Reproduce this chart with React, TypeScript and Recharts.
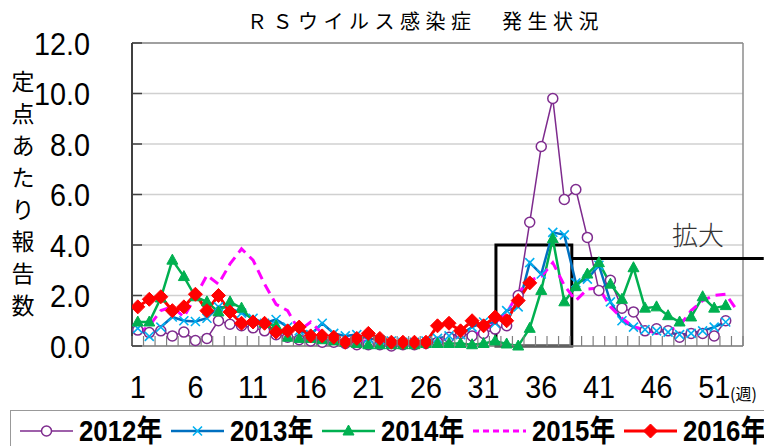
import React from 'react';
import { LineChart, Line, XAxis, YAxis, CartesianGrid, ReferenceArea, ReferenceLine, Legend } from 'recharts';

// ---- data ----
const weeks: number[] = [
  1, 2, 3, 4, 5, 6, 7, 8, 9, 10, 11, 12, 13, 14, 15, 16, 17, 18, 19, 20, 21, 22, 23, 24, 25, 26,
  27, 28, 29, 30, 31, 32, 33, 34, 35, 36, 37, 38, 39, 40, 41, 42, 43, 44, 45, 46, 47, 48, 49, 50, 51, 52, 53,
];

const v2012: (number | null)[] = [
  0.63, 0.53, 0.6, 0.4, 0.55, 0.22, 0.3, 1.0, 0.86, 0.8, 0.72, 0.6, 0.45, 0.35, 0.25, 0.2, 0.15, 0.15, 0.1, 0.05,
  0.05, 0.05, 0.0, 0.05, 0.05, 0.1, 0.15, 0.35, 0.5, 0.4, 0.5, 0.67, 0.8, 2.0, 4.9, 7.9, 9.8, 5.8, 6.2, 4.3,
  2.2, 2.6, 1.5, 1.35, 0.6, 0.68, 0.6, 0.35, 0.5, 0.5, 0.4, 1.0, null,
];
const v2013: (number | null)[] = [
  0.7, 0.38, 0.75, 1.15, 1.0, 0.97, 1.1, 1.55, 1.5, 1.3, 1.1, 0.9, 1.05, 0.75, 0.6, 0.45, 0.9, 0.5, 0.4, 0.45,
  0.3, 0.25, 0.2, 0.15, 0.15, 0.2, 0.3, 0.4, 0.45, 0.75, 0.95, 0.9, 1.4, 1.55, 3.3, 2.85, 4.5, 4.4, 2.5, 2.65,
  3.2, 1.75, 1.0, 0.75, 0.65, 0.6, 0.55, 0.45, 0.5, 0.6, 0.75, 0.95, null,
];
const v2014: (number | null)[] = [
  0.95, 0.95, 1.9, 3.4, 2.75, 1.95, 1.75, 1.35, 1.75, 1.5, 1.0, 0.9, 0.8, 0.35, 0.3, 0.3, 0.25, 0.2, 0.15, 0.1,
  0.05, 0.05, 0.05, 0.05, 0.05, 0.1, 0.1, 0.1, 0.1, 0.05, 0.1, 0.2, 0.08, 0.0, 0.7, 2.2, 4.25, 1.75, 2.35, 2.85,
  3.3, 2.45, 1.85, 3.1, 1.5, 1.55, 1.2, 0.95, 1.15, 1.95, 1.5, 1.6, null,
];
const v2015: (number | null)[] = [
  0.5, 0.8, 1.4, 1.55, 1.15, 1.95, 2.8, 2.45, 3.25, 3.85, 3.4, 2.45, 1.65, 1.4, 0.6, 0.95, 0.5, 0.3, 0.3, 0.2,
  0.2, 0.15, 0.1, 0.1, 0.1, 0.15, 0.2, 0.3, 0.4, 0.4, 0.6, 0.9, 1.3, 2.1, 2.6, 2.75, 3.3, 2.4, 1.8, 2.25,
  2.3, 1.55, 1.1, 0.75, 0.65, 0.5, 0.6, 0.8, 1.4, 1.8, 2.0, 2.05, 1.4,
];
const v2016: (number | null)[] = [
  1.55, 1.85, 1.95, 1.4, 1.55, 2.05, 1.4, 2.0, 1.35, 0.9, 0.95, 0.9, 0.55, 0.6, 0.75, 0.4, 0.4, 0.35, 0.15, 0.3,
  0.5, 0.3, 0.15, 0.15, 0.15, 0.15, 0.8, 0.9, 0.6, 1.0, 0.8, 1.15, 1.0, 1.8, 2.5, null, null, null, null, null,
  null, null, null, null, null, null, null, null, null, null, null, null, null,
];

const xLabelWeeks: number[] = [1, 6, 11, 16, 21, 26, 31, 36, 41, 46, 51];
const yTicks: number[] = [0, 2, 4, 6, 8, 10, 12];
const seriesNames: string[] = ['2012年', '2013年', '2014年', '2015年', '2016年'];

const title = 'ＲＳウイルス感染症　発生状況';
const yLabel = '定点あたり報告数';
const xUnit = '(週)';
const zoomNote = '拡大';

// annotation box (data coordinates: week / value)
const zoomBox = { x1: 32.07, x2: 38.65, y1: 0, y2: 4.0 };
const zoomLine = { x1: 38.65, x2: 55.3, y: 3.47 };

// ---- build chart table ----
const data = weeks.map((w, i) => ({
  week: w,
  y2012: v2012[i],
  y2013: v2013[i],
  y2014: v2014[i],
  y2015: v2015[i],
  y2016: v2016[i],
}));

type MarkerKind = 'circle' | 'x' | 'triangle' | 'diamond' | 'none';
interface SeriesCfg {
  key: string;
  name: string;
  color: string;
  width: number;
  dash?: string;
  marker: MarkerKind;
  markerColor: string;
}

const SERIES: SeriesCfg[] = [
  { key: 'y2012', name: seriesNames[0], color: '#7E2B8E', width: 1.5, marker: 'circle', markerColor: '#7E2B8E' },
  { key: 'y2013', name: seriesNames[1], color: '#0070C0', width: 2.5, marker: 'x', markerColor: '#00B0F0' },
  { key: 'y2014', name: seriesNames[2], color: '#00B050', width: 2.5, marker: 'triangle', markerColor: '#00B050' },
  { key: 'y2015', name: seriesNames[3], color: '#FF00FF', width: 3, dash: '10 6', marker: 'none', markerColor: '#FF00FF' },
  { key: 'y2016', name: seriesNames[4], color: '#FF0000', width: 3, marker: 'diamond', markerColor: '#FF0000' },
];

const SANS = '"Liberation Sans", Arial, "Noto Sans CJK JP", sans-serif';
const CJK = '"Noto Sans CJK JP", "Noto Sans", sans-serif';

function Marker({ kind, cx, cy, color }: { kind: MarkerKind; cx: number; cy: number; color: string }) {
  if (kind === 'circle') return <circle cx={cx} cy={cy} r={5} fill="#fff" stroke={color} strokeWidth={1.5} />;
  if (kind === 'x')
    return (
      <path
        d={`M${cx - 4.5},${cy - 4.5}L${cx + 4.5},${cy + 4.5}M${cx - 4.5},${cy + 4.5}L${cx + 4.5},${cy - 4.5}`}
        stroke={color}
        strokeWidth={1.6}
        fill="none"
      />
    );
  if (kind === 'triangle')
    return <path d={`M${cx},${cy - 6}L${cx + 5.5},${cy + 4}L${cx - 5.5},${cy + 4}Z`} fill={color} stroke={color} strokeWidth={1} />;
  if (kind === 'diamond')
    return <path d={`M${cx},${cy - 7}L${cx + 7},${cy}L${cx},${cy + 7}L${cx - 7},${cy}Z`} fill={color} stroke={color} strokeWidth={1} />;
  return null;
}

const makeDot = (s: SeriesCfg) => (props: any) => {
  const { cx, cy, value, index } = props;
  if (s.marker === 'none' || cx == null || cy == null || value == null || Number.isNaN(cy))
    return <g key={`${s.key}-${index}`} />;
  return (
    <g key={`${s.key}-${index}`}>
      <Marker kind={s.marker} cx={cx} cy={cy} color={s.markerColor} />
    </g>
  );
};

// x ticks: boundaries between weeks (tick marks) and label weeks (text)
const xTicks: number[] = [
  ...weeks.map((w) => w - 0.5),
  weeks[weeks.length - 1] + 0.5,
  ...xLabelWeeks,
].sort((a, b) => a - b);

const XTick = (props: any) => {
  const { x, y, payload } = props;
  const v = payload.value as number;
  if (v % 1 !== 0) {
    return <line x1={x} y1={y} x2={x} y2={y - 10} stroke="#808080" strokeWidth={1.2} />;
  }
  return (
    <text
      transform={`translate(${x},${y + 52}) scale(0.9,1)`}
      x={0}
      y={0}
      textAnchor="middle"
      fontSize={32}
      fontFamily={SANS}
      fill="#000"
    >
      {v}
    </text>
  );
};

const YTick = (props: any) => {
  const { x, y, payload } = props;
  return (
    <g>
      <line x1={x} y1={y} x2={x + 10} y2={y} stroke="#404040" strokeWidth={1.5} />
      <text
        transform={`translate(${x - 42},${y + 11.5}) scale(0.9,1)`}
        x={0}
        y={0}
        textAnchor="end"
        fontSize={32}
        fontFamily={SANS}
        fill="#000"
      >
        {Number(payload.value).toFixed(1)}
      </text>
    </g>
  );
};

const LegendContent = () => (
  <div
    style={{
      boxSizing: 'border-box',
      width: 760,
      height: 42,
      border: '1px solid #999',
      borderRight: 'none',
      display: 'flex',
      alignItems: 'center',
      paddingLeft: 9,
      background: '#fff',
    }}
  >
    {SERIES.map((s) => (
      <div key={s.key} style={{ display: 'flex', alignItems: 'center', marginRight: 6 }}>
        <svg width={53} height={20} style={{ marginRight: 6, overflow: 'visible' }}>
          <line x1={0} y1={10} x2={53} y2={10} stroke={s.color} strokeWidth={s.width} strokeDasharray={s.dash ? '6 4' : undefined} />
          <Marker kind={s.marker} cx={26.5} cy={10} color={s.markerColor} />
        </svg>
        <span style={{ display: 'inline-block', width: 86, overflow: 'visible' }}>
          <span
            style={{
              display: 'inline-block',
              whiteSpace: 'nowrap',
              fontFamily: SANS,
              fontWeight: 'bold',
              fontSize: 30,
              lineHeight: '30px',
              color: '#000',
              transform: 'scaleX(0.86)',
              transformOrigin: 'left center',
            }}
          >
            {s.name}
          </span>
        </span>
      </div>
    ))}
  </div>
);

export default function App() {
  return (
    <div style={{ position: 'absolute', left: 0, top: 0, width: 764, height: 446, overflow: 'hidden', background: '#fff' }}>
      <LineChart width={764} height={446} data={data} margin={{ top: 43, right: 21, bottom: 0, left: 0 }}>
        <CartesianGrid horizontal vertical={false} stroke="#d0d0d0" strokeWidth={1.5} />
        <XAxis
          dataKey="week"
          type="number"
          domain={[0.5, 53.5]}
          ticks={xTicks}
          interval={0}
          tick={<XTick />}
          tickLine={false}
          tickSize={0}
          tickMargin={0}
          height={100}
          axisLine={{ stroke: '#808080', strokeWidth: 1.5 }}
          allowDataOverflow
        />
        <YAxis
          type="number"
          domain={[0, 12]}
          ticks={yTicks}
          interval={0}
          tick={<YTick />}
          tickLine={false}
          tickSize={0}
          tickMargin={0}
          width={132}
          axisLine={{ stroke: '#000', strokeWidth: 1.5 }}
        />
        <ReferenceLine y={12} stroke="#8c8c8c" strokeWidth={1.5} />
        <ReferenceLine x={53.5} stroke="#8c8c8c" strokeWidth={1.5} />
        <Legend
          layout="horizontal"
          verticalAlign="middle"
          align="center"
          wrapperStyle={{ position: 'absolute', left: 10, top: 410, width: 760, height: 42 }}
          content={<LegendContent />}
        />
        {SERIES.map((s) => (
          <Line
            key={s.key}
            type="linear"
            dataKey={s.key}
            name={s.name}
            stroke={s.color}
            strokeWidth={s.width}
            strokeDasharray={s.dash}
            dot={makeDot(s)}
            activeDot={false}
            isAnimationActive={false}
          />
        ))}
        <ReferenceArea
          x1={zoomBox.x1}
          x2={zoomBox.x2}
          y1={zoomBox.y1}
          y2={zoomBox.y2}
          fill="none"
          fillOpacity={0}
          stroke="#000"
          strokeWidth={3}
          ifOverflow="visible"
        />
        <ReferenceLine
          segment={[
            { x: zoomLine.x1, y: zoomLine.y },
            { x: zoomLine.x2, y: zoomLine.y },
          ]}
          stroke="#000"
          strokeWidth={3}
          ifOverflow="visible"
        />
      </LineChart>
      <div
        style={{
          position: 'absolute',
          left: 247,
          top: 10,
          fontFamily: CJK,
          fontSize: 20,
          lineHeight: '22px',
          letterSpacing: 5.5,
          whiteSpace: 'nowrap',
          color: '#000',
        }}
      >
        {title}
      </div>
      <div style={{ position: 'absolute', left: 11, top: 64, width: 24, fontFamily: CJK, fontSize: 23, lineHeight: '32px', textAlign: 'center', color: '#000' }}>
        {yLabel.split('').map((c, i) => (
          <div key={i}>{c}</div>
        ))}
      </div>
      <div style={{ position: 'absolute', left: 730, top: 384, fontFamily: CJK, fontSize: 16, lineHeight: '18px', whiteSpace: 'nowrap', color: '#000' }}>
        {xUnit}
      </div>
      <div style={{ position: 'absolute', left: 672, top: 220, fontFamily: CJK, fontSize: 26, lineHeight: '28px', fontWeight: 300, whiteSpace: 'nowrap', color: '#333' }}>
        {zoomNote}
      </div>
    </div>
  );
}
